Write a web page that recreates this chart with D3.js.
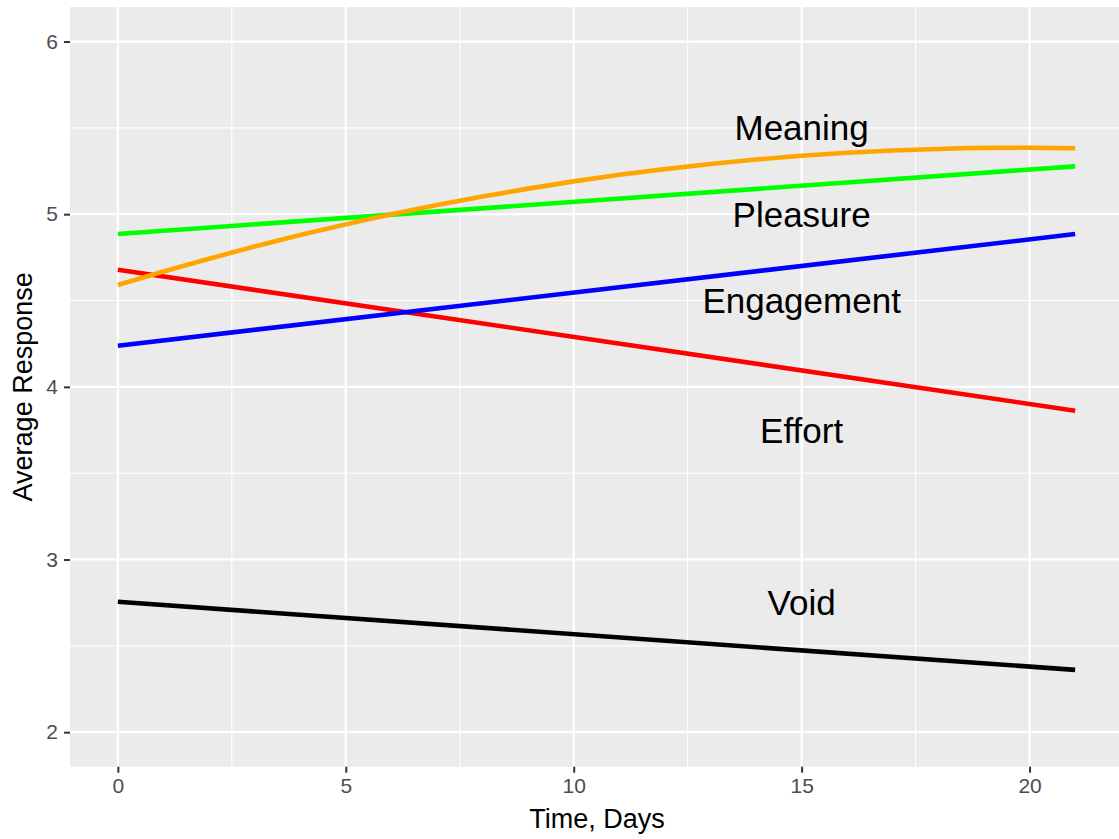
<!DOCTYPE html>
<html>
<head>
<meta charset="utf-8">
<script src="https://cdn.jsdelivr.net/npm/d3@7"></script>
<style>
  body { margin: 0; background: #fff; }
  svg { display: block; }
</style>
</head>
<body>
<div id="chart"></div>
<script>

// data
let meaningDays   = [0, 1, 2, 3, 4, 5, 6, 7, 8, 9, 10, 11, 12, 13, 14, 15, 16, 17, 18, 19, 20, 21],
	meaningValues = [4.59, 4.668, 4.742, 4.813, 4.879, 4.941, 4.999, 5.053, 5.102, 5.148, 5.19,
	                 5.228, 5.261, 5.291, 5.317, 5.338, 5.356, 5.369, 5.378, 5.384, 5.385, 5.382];

let lineDays       = [0, 21],
	pleasureValues = [4.885, 5.277],
	engageValues   = [4.238, 4.885],
	effortValues   = [4.678, 3.862],
	voidValues     = [2.755, 2.361];

let labelNames = ["Meaning", "Pleasure", "Engagement", "Effort", "Void"],
	labelX     = [15, 15, 15, 15, 15],
	labelY     = [5.5, 5, 4.5, 3.75, 2.75];

let xTicks = [0, 5, 10, 15, 20],
	xMinor = [2.5, 7.5, 12.5, 17.5],
	yTicks = [2, 3, 4, 5, 6],
	yMinor = [2.5, 3.5, 4.5, 5.5];


function draw() {

	let width  = 1119,
		height = 839,
		font   = "'Liberation Sans', Arial, sans-serif";

	let svg = d3.select("#chart")
		.append("svg")
			.attr("width", width)
			.attr("height", height);

	let xScale = d3.scaleLinear()
		.domain([-1.05, 22.05])
		.range([70, 1123]);

	let yScale = d3.scaleLinear()
		.domain([1.8, 6.2])
		.range([766.7, 7]);

	// panel background
	svg.append("rect")
		.attr("x", xScale.range()[0])
		.attr("y", yScale.range()[1])
		.attr("width", xScale.range()[1] - xScale.range()[0])
		.attr("height", yScale.range()[0] - yScale.range()[1])
		.style("fill", "#EBEBEB");

	// grid
	let grid = svg.append("g");

	grid.selectAll(".vminor").data(xMinor).enter()
		.append("line")
			.attr("x1", d => xScale(d)).attr("x2", d => xScale(d))
			.attr("y1", yScale.range()[1]).attr("y2", yScale.range()[0])
			.style("stroke", "#fff").style("stroke-width", 1.1);

	grid.selectAll(".hminor").data(yMinor).enter()
		.append("line")
			.attr("y1", d => yScale(d)).attr("y2", d => yScale(d))
			.attr("x1", xScale.range()[0]).attr("x2", xScale.range()[1])
			.style("stroke", "#fff").style("stroke-width", 1.1);

	grid.selectAll(".vmajor").data(xTicks).enter()
		.append("line")
			.attr("x1", d => xScale(d)).attr("x2", d => xScale(d))
			.attr("y1", yScale.range()[1]).attr("y2", yScale.range()[0])
			.style("stroke", "#fff").style("stroke-width", 2.2);

	grid.selectAll(".hmajor").data(yTicks).enter()
		.append("line")
			.attr("y1", d => yScale(d)).attr("y2", d => yScale(d))
			.attr("x1", xScale.range()[0]).attr("x2", xScale.range()[1])
			.style("stroke", "#fff").style("stroke-width", 2.2);

	// axes
	let xAxis = svg.append("g")
		.attr("transform", "translate(0," + yScale.range()[0] + ")")
		.call(d3.axisBottom(xScale).tickValues(xTicks).tickFormat(d3.format("d")).tickSize(6).tickPadding(5));

	let yAxis = svg.append("g")
		.attr("transform", "translate(" + xScale.range()[0] + ",0)")
		.call(d3.axisLeft(yScale).tickValues(yTicks).tickFormat(d3.format("d")).tickSize(6).tickPadding(6));

	[xAxis, yAxis].forEach(function (ax) {
		ax.select(".domain").remove();
		ax.attr("font-size", null).attr("font-family", null);
		ax.selectAll(".tick line").style("stroke", "#333").style("stroke-width", 2);
		ax.selectAll(".tick text")
			.style("fill", "#4D4D4D")
			.style("font-family", font)
			.style("font-size", "21px");
	});

	// lines
	let line = d3.line()
		.x(d => xScale(d[0]))
		.y(d => yScale(d[1]))
		.curve(d3.curveMonotoneX);

	let series = [
		{ days: lineDays,    values: voidValues,     color: "#000000" },
		{ days: lineDays,    values: effortValues,   color: "#FF0000" },
		{ days: lineDays,    values: engageValues,   color: "#0000FF" },
		{ days: lineDays,    values: pleasureValues, color: "#00FF00" },
		{ days: meaningDays, values: meaningValues,  color: "#FFA500" }
	];

	svg.selectAll(".series")
		.data(series)
		.enter()
			.append("path")
				.attr("d", s => line(s.days.map((d, i) => [d, s.values[i]])))
				.style("fill", "none")
				.style("stroke", s => s.color)
				.style("stroke-width", 4.6);

	// annotations
	svg.selectAll(".label")
		.data(labelNames)
		.enter()
			.append("text")
				.attr("x", (d, i) => xScale(labelX[i]))
				.attr("y", (d, i) => yScale(labelY[i]))
				.attr("text-anchor", "middle")
				.attr("dominant-baseline", "central")
				.style("font-family", font)
				.style("font-size", "35px")
				.style("fill", "#000")
				.text(d => d);

	// axis titles
	svg.append("text")
		.attr("x", 597)
		.attr("y", 828)
		.attr("text-anchor", "middle")
		.style("font-family", font)
		.style("font-size", "27px")
		.text("Time, Days");

	svg.append("text")
		.attr("transform", "translate(32," + ((yScale.range()[0] + yScale.range()[1]) / 2) + ") rotate(-90)")
		.attr("text-anchor", "middle")
		.style("font-family", font)
		.style("font-size", "27px")
		.text("Average Response");
};

draw();
</script>
</body>
</html>
